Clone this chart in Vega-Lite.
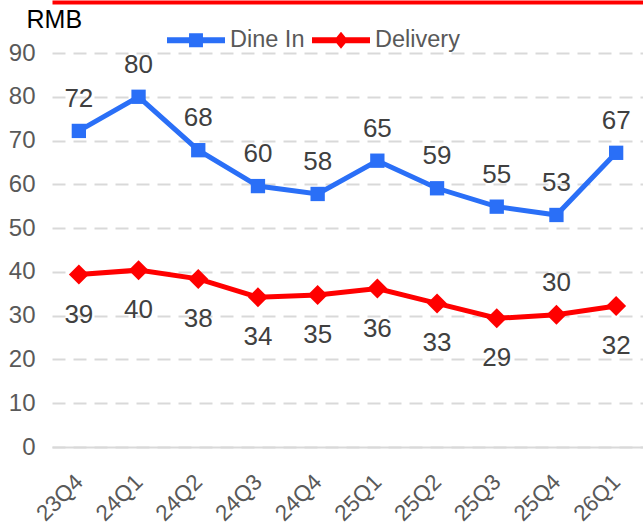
{
  "$schema": "https://vega.github.io/schema/vega-lite/v6.json",
  "width": 591,
  "height": 394,
  "autosize": {"type": "none"},
  "padding": {"left": 52, "top": 53, "right": 0, "bottom": 78},
  "background": "white",
  "config": {
    "view": {"stroke": null},
    "font": "Liberation Sans"
  },
  "data": {
    "values": [
      {"quarter": "23Q4", "series": "Dine In", "value": 72.2, "side": "above"},
      {"quarter": "24Q1", "series": "Dine In", "value": 80.0, "side": "above"},
      {"quarter": "24Q2", "series": "Dine In", "value": 67.8, "side": "above"},
      {"quarter": "24Q3", "series": "Dine In", "value": 59.6, "side": "above"},
      {"quarter": "24Q4", "series": "Dine In", "value": 57.8, "side": "above"},
      {"quarter": "25Q1", "series": "Dine In", "value": 65.4, "side": "above"},
      {"quarter": "25Q2", "series": "Dine In", "value": 59.1, "side": "above"},
      {"quarter": "25Q3", "series": "Dine In", "value": 54.9, "side": "above"},
      {"quarter": "25Q4", "series": "Dine In", "value": 53.0, "side": "above"},
      {"quarter": "26Q1", "series": "Dine In", "value": 67.2, "side": "above"},
      {"quarter": "23Q4", "series": "Delivery", "value": 39.4, "side": "below"},
      {"quarter": "24Q1", "series": "Delivery", "value": 40.4, "side": "below"},
      {"quarter": "24Q2", "series": "Delivery", "value": 38.4, "side": "below"},
      {"quarter": "24Q3", "series": "Delivery", "value": 34.2, "side": "below"},
      {"quarter": "24Q4", "series": "Delivery", "value": 34.7, "side": "below"},
      {"quarter": "25Q1", "series": "Delivery", "value": 36.2, "side": "below"},
      {"quarter": "25Q2", "series": "Delivery", "value": 32.8, "side": "below"},
      {"quarter": "25Q3", "series": "Delivery", "value": 29.4, "side": "below"},
      {"quarter": "25Q4", "series": "Delivery", "value": 30.2, "side": "above"},
      {"quarter": "26Q1", "series": "Delivery", "value": 32.2, "side": "below"}
    ]
  },
  "encoding": {
    "y": {
      "field": "value",
      "type": "quantitative",
      "scale": {"domain": [0, 90], "nice": false},
      "axis": {
        "title": "RMB",
        "titleAngle": 0,
        "titleAlign": "left",
        "titleBaseline": "middle",
        "titleX": -26,
        "titleY": -34,
        "titleFontSize": 25,
        "titleFontWeight": "normal",
        "titleColor": "#000000",
        "values": [0, 10, 20, 30, 40, 50, 60, 70, 80, 90],
        "grid": true,
        "gridDash": [13, 8],
        "gridColor": "#d9d9d9",
        "gridWidth": 2,
        "domain": false,
        "ticks": false,
        "labelFontSize": 24,
        "labelColor": "#595959",
        "labelPadding": 17
      }
    }
  },
  "layer": [
    {
      "mark": {"type": "line", "strokeWidth": 5},
      "encoding": {
        "x": {
          "field": "quarter", "type": "ordinal", "sort": null,
          "scale": {"type": "point", "padding": 0.45},
          "axis": {
            "orient": "bottom",
            "title": null,
            "labelAngle": -45,
            "labelAlign": "right",
            "labelBaseline": "middle",
            "labelFontSize": 22.5,
            "labelColor": "#595959",
            "labelPadding": 31,
            "ticks": false,
            "grid": false,
            "domainColor": "#d9d9d9",
            "domainWidth": 2
          }
        },
        "stroke": {
          "field": "series", "type": "nominal",
          "scale": {"range": ["#FF0000", "#2A6FF7"]},
          "legend": null
        }
      }
    },
    {
      "transform": [{"filter": "datum.series === 'Dine In'"}],
      "mark": {"type": "point", "shape": "square", "filled": true, "size": 205, "opacity": 1},
      "encoding": {
        "x": {"field": "quarter", "type": "ordinal", "sort": null, "axis": null},
        "fill": {
          "field": "series", "type": "nominal",
          "scale": {"range": ["#FF0000", "#2A6FF7"]},
          "legend": null
        }
      }
    },
    {
      "transform": [{"filter": "datum.series === 'Delivery'"}],
      "mark": {"type": "point", "shape": "diamond", "filled": true, "size": 400, "opacity": 1},
      "encoding": {
        "x": {"field": "quarter", "type": "ordinal", "sort": null, "axis": null},
        "fill": {"field": "series", "type": "nominal", "legend": null}
      }
    },
    {
      "transform": [{"filter": "datum.side === 'above'"}],
      "mark": {"type": "text", "dy": -32, "fontSize": 26, "color": "#404040", "baseline": "middle"},
      "encoding": {
        "x": {"field": "quarter", "type": "ordinal", "sort": null, "axis": null},
        "text": {"field": "value", "type": "quantitative", "format": ".0f"}
      }
    },
    {
      "transform": [{"filter": "datum.side === 'below'"}],
      "mark": {"type": "text", "dy": 40, "fontSize": 26, "color": "#404040", "baseline": "middle"},
      "encoding": {
        "x": {"field": "quarter", "type": "ordinal", "sort": null, "axis": null},
        "text": {"field": "value", "type": "quantitative", "format": ".0f"}
      }
    },
    {
      "transform": [{"filter": "false"}],
      "mark": {"type": "point", "filled": true, "opacity": 1},
      "encoding": {
        "x": {
          "field": "quarter", "type": "ordinal", "sort": null,
          "axis": {
            "orient": "top",
            "offset": 51,
            "title": null,
            "labels": false,
            "ticks": false,
            "grid": false,
            "domainColor": "#FF0000",
            "domainWidth": 4
          }
        },
        "color": {
          "field": "series", "type": "nominal",
          "scale": {"domain": ["Dine In", "Delivery"], "range": ["#2A6FF7", "#FF0000"]},
          "legend": {
            "orient": "none", "legendX": 115, "legendY": -42, "direction": "horizontal",
            "title": null, "symbolSize": 3364, "labelFontSize": 23.5, "labelColor": "#595959",
            "labelOffset": 5, "columnPadding": 7, "symbolStrokeWidth": 0, "symbolOpacity": 1, "padding": 0
          }
        },
        "shape": {
          "field": "series", "type": "nominal",
          "scale": {
            "domain": ["Dine In", "Delivery"],
            "range": [
              "M-1,-0.103H1V0.103H-1Z M-0.24,-0.24H0.24V0.24H-0.24Z",
              "M-1,-0.103H1V0.103H-1Z M0,-0.29L0.24,0L0,0.29L-0.24,0Z"
            ]
          },
          "legend": {
            "orient": "none", "legendX": 115, "legendY": -42, "direction": "horizontal",
            "title": null, "symbolSize": 3364, "labelFontSize": 23.5, "labelColor": "#595959",
            "labelOffset": 5, "columnPadding": 7, "symbolStrokeWidth": 0, "symbolOpacity": 1, "padding": 0
          }
        }
      }
    }
  ],
  "resolve": {"axis": {"x": "independent"}}
}
